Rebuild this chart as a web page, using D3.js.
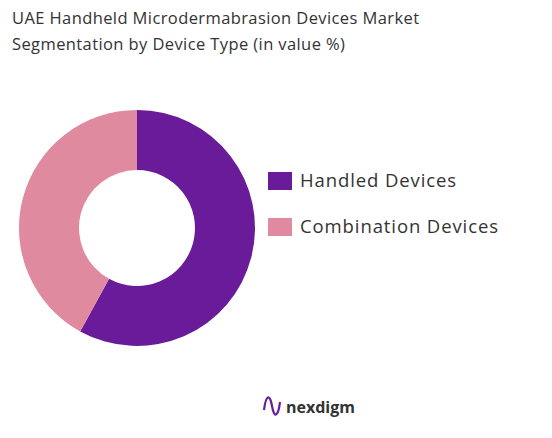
<!DOCTYPE html>
<html lang="en">
<head>
<meta charset="UTF-8">
<script src="https://d3js.org/d3.v7.min.js"></script>
<style>body{margin:0;background:#fff}</style>
</head>
<body>
<svg width="552" height="438"></svg>
<script>
// Device type shares (value %)
const categories = ["Handled Devices", "Combination Devices"];
const shares = [58, 42];
const colors = ["#6a1b9a", "#e08a9f"];

const svg = d3.select("svg");
const font = "'Open Sans', sans-serif";

svg.append("text").attr("x", 12).attr("y", 24)
    .attr("font-family", font).attr("font-size", 16.5).attr("fill", "#333")
    .attr("letter-spacing", 0.4)
    .text("UAE Handheld Microdermabrasion Devices Market");
svg.append("text").attr("x", 12).attr("y", 50)
    .attr("font-family", font).attr("font-size", 16.5).attr("fill", "#333")
    .attr("letter-spacing", 0.4)
    .text("Segmentation by Device Type (in value %)");

const pie = d3.pie().sort(null).value(d => d);
const arc = d3.arc().innerRadius(58).outerRadius(118);
const g = svg.append("g").attr("transform", "translate(137,228)");
g.selectAll("path").data(pie(shares)).enter().append("path")
    .attr("d", arc).attr("fill", (d, i) => colors[i]);

const legend = svg.append("g").attr("transform", "translate(268,172)");
categories.forEach((c, i) => {
    const row = legend.append("g").attr("transform", `translate(0,${i * 46})`);
    row.append("rect").attr("width", 24).attr("height", 18).attr("fill", colors[i]);
    row.append("text").attr("x", 32).attr("y", 15)
        .attr("font-family", font).attr("font-size", 18.5).attr("fill", "#333")
        .attr("letter-spacing", 0.9).text(c);
});

// logo
const logo = svg.append("g").attr("transform", "translate(264,400)");
logo.append("path").attr("d", "M0,10 C2,-6 6,-6 8,6 C10,18 14,18 16,2")
    .attr("fill", "none").attr("stroke", "#6a1b9a").attr("stroke-width", 2.2);
logo.append("text").attr("x", 22).attr("y", 13)
    .attr("font-family", font).attr("font-size", 16).attr("font-weight", 700)
    .attr("fill", "#333").text("nexdigm");
</script>
</body>
</html>
